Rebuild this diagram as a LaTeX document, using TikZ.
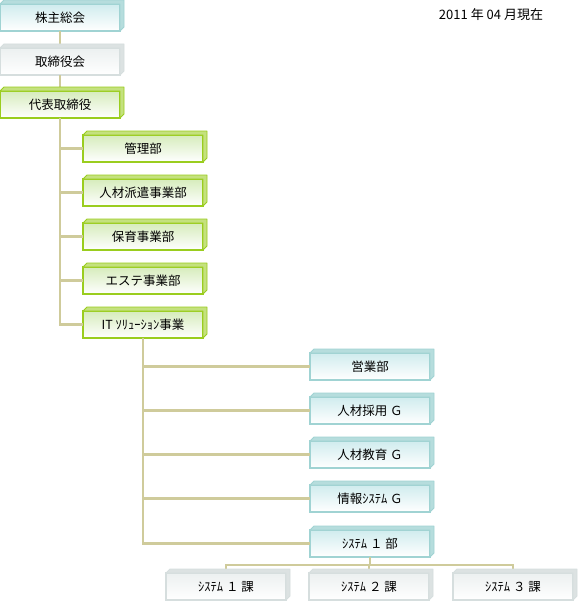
\documentclass[tikz,border=0pt]{standalone}
\usepackage{fontspec}
\setmainfont{Noto Sans CJK JP}

\definecolor{linkcol}{HTML}{CFCB9B}
\definecolor{greenline}{HTML}{9ACD1E}
\definecolor{greentop}{HTML}{D6ECBC}
\definecolor{greenside}{HTML}{C4E17E}
\definecolor{tealline}{HTML}{A0D3D3}
\definecolor{tealtop}{HTML}{D0ECEE}
\definecolor{tealside}{HTML}{B6DDDD}
\definecolor{greyline}{HTML}{D6DEDE}
\definecolor{greytop}{HTML}{ECF0F0}
\definecolor{greyside}{HTML}{DCE2E2}

\tikzset{
  orgbox/.style={rectangle, anchor=north west, minimum width=120pt, minimum height=27pt,
    inner sep=0pt, outer sep=0pt, line width=1.2pt,
    font=\fontsize{12.5}{14}\selectfont},
  greenbox/.style={orgbox, draw=greenline, top color=greentop, bottom color=white},
  tealbox/.style={orgbox, draw=tealline, top color=tealtop, bottom color=white},
  greybox/.style={orgbox, draw=greyline, top color=greytop, bottom color=white},
  link/.style={draw=linkcol, line width=2.6pt},
}

\begin{document}
\begin{tikzpicture}[x=1pt,y=-1pt]

        \useasboundingbox[fill=white] (0,0) rectangle (579,602);

        % Date
        \node[font=\fontsize{13}{15}\selectfont] (date) at (491,15) {2011 年 04 月現在};

        % Top
        \node[tealbox] (owners) at (0,4) {株主総会};
        \node[greybox] (board) at (0,48) {取締役会};
        \node[greenbox] (ceo) at (0,91) {代表取締役};

        % Divisions
        \node[greenbox] (admin) at (83,135) {管理部};
        \node[greenbox] (staffing) at (83,179) {人材派遣事業部};
        \node[greenbox] (childcare) at (83,223) {保育事業部};
        \node[greenbox] (esthe) at (83,267) {エステ事業部};
        \node[greenbox] (itbiz) at (83,311) {IT ｿﾘｭｰｼｮﾝ事業};

        % IT groups
        \node[tealbox] (sales) at (310,353) {営業部};
        \node[tealbox] (recruit) at (310,397) {人材採用 Ｇ};
        \node[tealbox] (training) at (310,441) {人材教育 Ｇ};
        \node[tealbox] (infosys) at (310,485) {情報ｼｽﾃﾑ Ｇ};
        \node[tealbox] (sysdept) at (310,530) {ｼｽﾃﾑ １ 部};

        % Sections
        \node[greybox] (sec1) at (166,573) {ｼｽﾃﾑ １ 課};
        \node[greybox] (sec2) at (309,573) {ｼｽﾃﾑ ２ 課};
        \node[greybox] (sec3) at (453,573) {ｼｽﾃﾑ ３ 課};

        % Connectors
        \draw[link] (owners) -- (board);
        \draw[link] (board) -- (ceo);
        \foreach \d in {admin, staffing, childcare, esthe, itbiz}
          \draw[link] (ceo.south) |- (\d.west);
        \foreach \g in {sales, recruit, training, infosys, sysdept}
          \draw[link] (itbiz.south) |- (\g.west);
        \coordinate (split) at ([yshift=-8pt]sysdept.south);
        \draw[link] (sysdept.south) -- (split);
        \foreach \s in {sec1, sec2, sec3}
          \draw[link] (split) -| (\s.north);

        % 3D faces
        \foreach \n/\c in {owners/teal, board/grey, ceo/green, admin/green, staffing/green,
            childcare/green, esthe/green, itbiz/green, sales/teal, recruit/teal,
            training/teal, infosys/teal, sysdept/teal, sec1/grey, sec2/grey, sec3/grey}
          \filldraw[fill=\c side, draw=\c line, line width=0.8pt, line join=round]
            (\n.north west) -- ([shift={(4,-4)}]\n.north west)
            -- ([shift={(4,-4)}]\n.north east) -- ([shift={(4,-4)}]\n.south east)
            -- (\n.south east) -- (\n.north east) -- cycle;

\end{tikzpicture}
\end{document}
